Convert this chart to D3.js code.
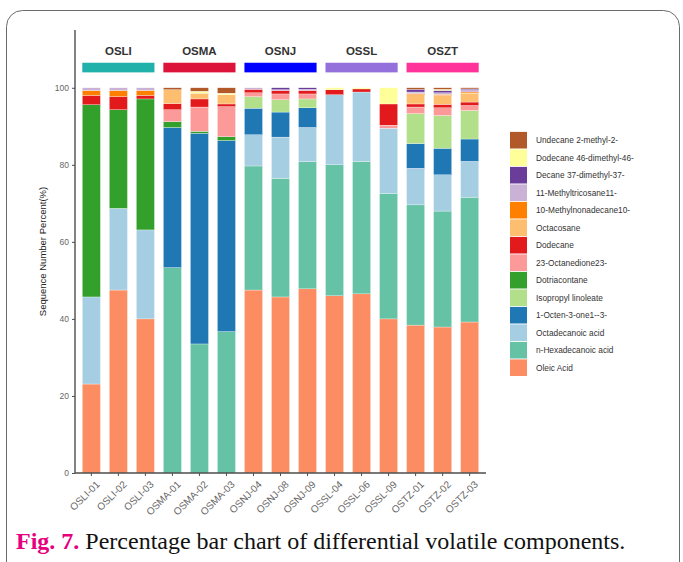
<!DOCTYPE html>
<html>
<head>
<meta charset="utf-8">
<script src="https://cdn.jsdelivr.net/npm/d3@7"></script>
<style>
  html, body { margin: 0; padding: 0; background: #fff; }
  svg { display: block; }
</style>
</head>
<body>
<div id="chart"></div>
<script>
// samples (x axis) and the groups they belong to
const samples = ['OSLI-01', 'OSLI-02', 'OSLI-03', 'OSMA-01', 'OSMA-02', 'OSMA-03', 'OSNJ-04', 'OSNJ-08', 'OSNJ-09',
  'OSSL-04', 'OSSL-06', 'OSSL-09', 'OSTZ-01', 'OSTZ-02', 'OSTZ-03'];
const groups = ['OSLI', 'OSMA', 'OSNJ', 'OSSL', 'OSZT'];
const groupColors = ['#20b2aa', '#dc143c', '#0000ff', '#9370db', '#ff3399'];

// compounds, stacked from the bottom up
const compounds = ['Oleic Acid', 'n-Hexadecanoic acid', 'Octadecanoic acid', '1-Octen-3-one1--3-', 'Isopropyl linoleate',
  'Dotriacontane', '23-Octanedione23-', 'Dodecane', 'Octacosane', '10-Methylnonadecane10-', '11-Methyltricosane11-',
  'Decane 37-dimethyl-37-', 'Dodecane 46-dimethyl-46-', 'Undecane 2-methyl-2-'];
const compoundColors = ['#fc8d62', '#66c2a5', '#a6cee3', '#1f78b4', '#b2df8a', '#33a02c', '#fb9a99', '#e31a1c',
  '#fdbf6f', '#ff7f00', '#cab2d6', '#6a3d9a', '#ffff99', '#b15928'];

// percent per sample (same order as samples)
const oleicAcid         = [23.1, 47.5, 40.0, 0, 0, 0, 47.5, 45.7, 47.8, 46.0, 46.5, 40.0, 38.4, 37.9, 39.2];
const nHexadecanoic     = [0, 0, 0, 53.3, 33.5, 36.7, 32.2, 30.8, 33.0, 34.0, 34.4, 32.6, 31.2, 30.1, 32.4];
const octadecanoic      = [22.6, 21.2, 23.1, 0, 0, 0, 8.1, 10.7, 8.9, 18.2, 18.0, 16.9, 9.5, 9.4, 9.3];
const octenone          = [0, 0, 0, 36.4, 54.7, 49.6, 6.9, 6.5, 5.1, 0, 0, 0, 6.4, 6.9, 5.8];
const isopropylLinoleate = [0, 0, 0, 0, 0, 0, 3.0, 3.2, 2.3, 0, 0, 0, 7.8, 8.5, 7.4];
const dotriacontane     = [49.9, 25.6, 34.0, 1.5, 0.5, 1.0, 0, 0, 0, 0, 0, 0, 0, 0, 0];
const octanedione       = [0, 0, 0, 3.1, 6.3, 7.8, 1.0, 1.5, 1.3, 0, 0, 0.8, 1.7, 2.0, 1.3];
const dodecane          = [2.4, 3.4, 0.9, 1.6, 2.1, 0.7, 0.9, 0.9, 0.9, 1.3, 0.8, 5.5, 0.8, 0.9, 0.9];
const octacosane        = [0, 0, 0, 3.6, 1.5, 2.4, 0, 0, 0, 0, 0, 0, 2.4, 2.3, 2.3];
const methylnonadecane  = [1.3, 1.6, 1.3, 0, 0, 0, 0, 0, 0, 0, 0, 0, 0.3, 0.3, 0.3];
const methyltricosane   = [0.7, 0.7, 0.7, 0, 0, 0, 0.4, 0.2, 0.3, 0, 0, 0, 0.4, 0.4, 0.6];
const decaneDimethyl    = [0, 0, 0, 0, 0, 0, 0, 0.5, 0.4, 0, 0, 0, 0.7, 0.6, 0.2];
const dodecaneDimethyl  = [0, 0, 0, 0, 0.5, 0.4, 0, 0, 0, 0.5, 0.3, 4.2, 0, 0.3, 0];
const undecaneMethyl    = [0, 0, 0, 0.5, 0.9, 1.4, 0, 0, 0, 0, 0, 0, 0.4, 0.4, 0.3];

const yTicks = [0, 20, 40, 60, 80, 100];

const series = [oleicAcid, nHexadecanoic, octadecanoic, octenone, isopropylLinoleate, dotriacontane, octanedione,
  dodecane, octacosane, methylnonadecane, methyltricosane, decaneDimethyl, dodecaneDimethyl, undecaneMethyl];

const width = 683;
const height = 562;

const rows = samples.map((s, i) => {
  const row = { sample: s };
  compounds.forEach((c, k) => (row[c] = series[k][i]));
  return row;
});

const svg = d3.select('#chart').append('svg').attr('width', width).attr('height', height);

// rounded frame around the figure
svg.append('rect')
  .attr('x', 6.5).attr('y', 10.5)
  .attr('width', 673).attr('height', 580)
  .attr('rx', 16)
  .attr('fill', '#fff')
  .attr('stroke', '#6b6b6b')
  .attr('stroke-width', 1);

const x = d3.scaleBand().domain(samples).range([75, 486]).paddingInner(0.33).paddingOuter(0.27);
const y = d3.scaleLinear().domain([0, 115]).range([473, 30]);
const color = d3.scaleOrdinal().domain(compounds).range(compoundColors);

const stack = d3.stack().keys(compounds)(rows);

// bars
svg.append('g')
  .selectAll('g')
  .data(stack)
  .enter()
  .append('g')
  .attr('fill', (d) => color(d.key))
  .selectAll('rect')
  .data((d) => d.filter((p) => p[1] - p[0] > 0))
  .enter()
  .append('rect')
  .attr('x', (d) => x(d.data.sample))
  .attr('width', x.bandwidth())
  .attr('y', (d) => y(d[1]))
  .attr('height', (d) => y(d[0]) - y(d[1]))
  .attr('stroke', '#fff')
  .attr('stroke-width', 0.3);

// group strips + labels
const groupSpan = (g) => {
  const members = samples.filter((s) => s.slice(0, 4) === g || (g === 'OSZT' && s.startsWith('OSTZ')));
  return [x(members[0]), x(members[members.length - 1]) + x.bandwidth()];
};

groups.forEach((g, i) => {
  const [x0, x1] = groupSpan(g);
  svg.append('rect')
    .attr('x', x0)
    .attr('width', x1 - x0)
    .attr('y', y(106.5))
    .attr('height', y(104) - y(106.5))
    .attr('fill', groupColors[i]);
  svg.append('text')
    .attr('x', (x0 + x1) / 2)
    .attr('y', y(108.6))
    .attr('text-anchor', 'middle')
    .attr('font-family', 'Liberation Sans, Arial, sans-serif')
    .attr('font-size', 11.5)
    .attr('font-weight', 'bold')
    .attr('fill', '#333')
    .text(g);
});

// axes
const yAxis = svg.append('g')
  .attr('transform', 'translate(75,0)')
  .call(d3.axisLeft(y).tickValues(yTicks).tickSize(3).tickPadding(3));
yAxis.select('.domain').attr('d', `M0,${y(0)}V${y(115)}`);

const xAxis = svg.append('g')
  .attr('transform', `translate(0,${y(0)})`)
  .call(d3.axisBottom(x).tickSize(3).tickPadding(2).tickSizeOuter(0));
xAxis.select('.domain').attr('d', 'M75,0H486');

[yAxis, xAxis].forEach((a) => {
  a.select('.domain').attr('stroke', '#4d4d4d').attr('stroke-width', 1.4);
  a.selectAll('.tick line').attr('stroke', '#4d4d4d').attr('stroke-width', 1);
  a.selectAll('text')
    .attr('font-family', 'Liberation Sans, Arial, sans-serif')
    .attr('font-size', 8.5)
    .attr('fill', '#666');
});

xAxis.selectAll('.tick text')
  .attr('font-size', 10)
  .attr('text-anchor', 'end')
  .attr('dy', '0.35em')
  .attr('transform', 'translate(3,6) rotate(-45)');

svg.append('text')
  .attr('transform', `translate(46,${(y(0) + y(115)) / 2}) rotate(-90)`)
  .attr('text-anchor', 'middle')
  .attr('font-family', 'Liberation Sans, Arial, sans-serif')
  .attr('font-size', 9.5)
  .attr('fill', '#222')
  .text('Sequence Number Percent(%)');

// legend, top entry = last compound in the stack
const legendItems = compounds.slice().reverse();
const legend = svg.append('g')
  .selectAll('g')
  .data(legendItems)
  .enter()
  .append('g')
  .attr('transform', (d, i) => `translate(510,${140.2 + i * 17.5})`);

legend.append('rect')
  .attr('x', 0)
  .attr('y', -8.3)
  .attr('width', 17)
  .attr('height', 16.6)
  .attr('fill', (d) => color(d));

legend.append('text')
  .attr('x', 26)
  .attr('y', 0)
  .attr('dy', '0.35em')
  .attr('font-family', 'Liberation Sans, Arial, sans-serif')
  .attr('font-size', 8.3)
  .attr('fill', '#333')
  .text((d) => d);

// caption
const caption = svg.append('text')
  .attr('x', 16)
  .attr('y', 549)
  .attr('font-family', 'Liberation Serif, Times New Roman, serif')
  .attr('font-size', 24);
caption.append('tspan').attr('fill', '#e6007e').attr('font-weight', 'bold').text('Fig. 7.');
caption.append('tspan').attr('fill', '#111').text(' Percentage bar chart of differential volatile components.');
</script>
</body>
</html>
